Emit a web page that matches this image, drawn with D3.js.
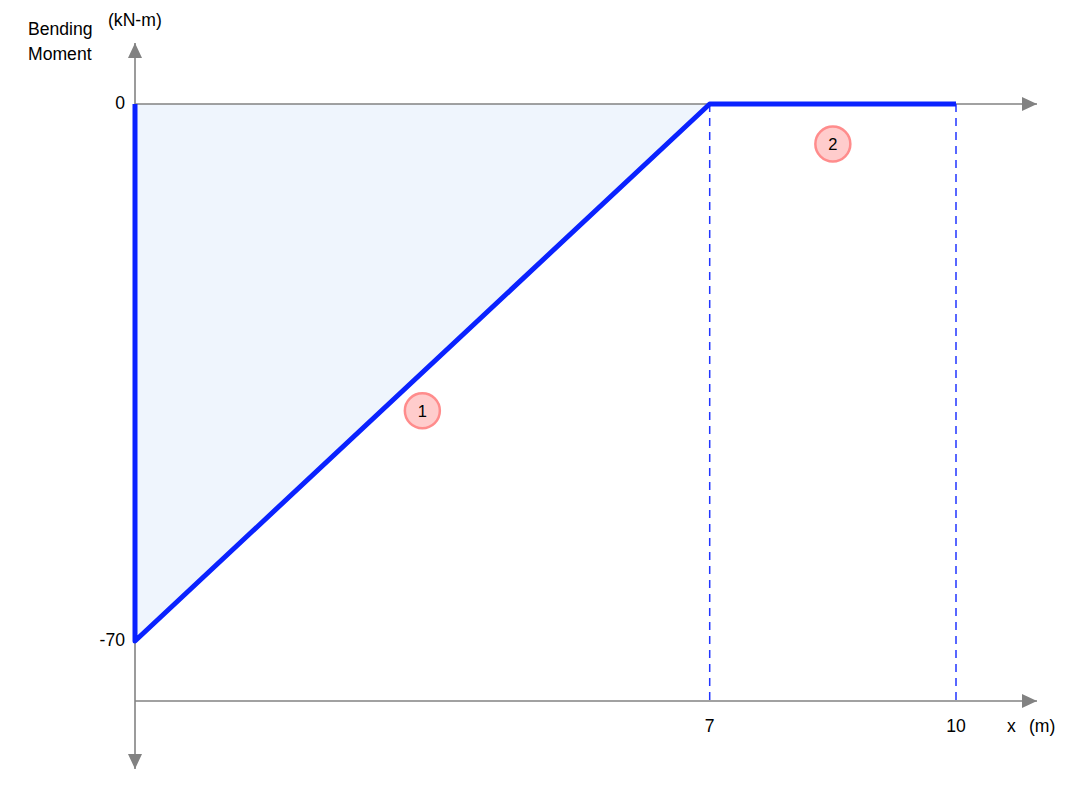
<!DOCTYPE html>
<html>
<head>
<meta charset="utf-8">
<script src="https://cdn.jsdelivr.net/npm/d3@7"></script>
<style>
  body { margin: 0; background: #fff; }
  svg text { font-family: "Liberation Sans", Arial, sans-serif; fill: #000; }
</style>
</head>
<body>
<div class="canvas-bm"></div>
<script>
// bending moment diagram data (x in m, M in kN-m)
const xPoints = [0, 0, 7, 10];
const moments = [0, -70, 0, 0];
const xTicks = [7, 10];
const yTicks = [0, -70];
const segLabels = ['1', '2'];
const segLabelX = [3.5, 8.5];
const segLabelY = [-40, -5.2];

const width = 1082;
const height = 796;

const svg = d3.select('.canvas-bm')
  .append('svg')
  .attr('width', width)
  .attr('height', height);

const x = d3.scaleLinear().domain([0, 10]).range([135, 956]);
const y = d3.scaleLinear().domain([-70, 0]).range([641, 104]);

const axisColor = '#828282';
const blue = '#0a22ff';
const baseY = y(-70) + 60;
const fs = 17.6;

const defs = svg.append('defs');
defs.append('marker')
  .attr('id', 'arrow')
  .attr('viewBox', '0 0 15 14')
  .attr('refX', 15).attr('refY', 7)
  .attr('markerWidth', 15).attr('markerHeight', 14)
  .attr('markerUnits', 'userSpaceOnUse')
  .attr('orient', 'auto')
  .append('path')
  .attr('d', 'M0,0 L15,7 L0,14 Z')
  .attr('fill', axisColor);

const pts = xPoints.map((d, i) => ({ x: d, m: moments[i] }));

// shaded area under the diagram
const area = d3.line().x(d => x(d.x)).y(d => y(d.m));
svg.append('path')
  .datum(pts.slice(0, 3))
  .attr('d', d => area(d) + 'Z')
  .attr('fill', '#eff5fd')
  .attr('stroke', 'none');

// axes
const axisG = svg.append('g').attr('stroke', axisColor).attr('stroke-width', 1.6);
axisG.append('line')
  .attr('x1', x(0)).attr('y1', y(0))
  .attr('x2', 1037).attr('y2', y(0))
  .attr('marker-end', 'url(#arrow)');
axisG.append('line')
  .attr('x1', x(0)).attr('y1', baseY)
  .attr('x2', 1037).attr('y2', baseY)
  .attr('marker-end', 'url(#arrow)');
axisG.append('line')
  .attr('x1', x(0)).attr('y1', y(0))
  .attr('x2', x(0)).attr('y2', 43)
  .attr('marker-end', 'url(#arrow)');
axisG.append('line')
  .attr('x1', x(0)).attr('y1', y(-70))
  .attr('x2', x(0)).attr('y2', 769)
  .attr('marker-end', 'url(#arrow)');

// dashed drop lines at x ticks
svg.selectAll('.drop')
  .data(xTicks)
  .enter()
  .append('line')
  .attr('class', 'drop')
  .attr('x1', d => x(d)).attr('x2', d => x(d))
  .attr('y1', y(0)).attr('y2', baseY + 3)
  .attr('stroke', '#2236ff')
  .attr('stroke-width', 1.5)
  .attr('stroke-dasharray', '8,6');

// moment diagram line
const line = d3.line().x(d => x(d.x)).y(d => y(d.m));
svg.append('path')
  .datum(pts)
  .attr('d', line)
  .attr('fill', 'none')
  .attr('stroke', blue)
  .attr('stroke-width', 5)
  .attr('stroke-linejoin', 'round')
  .attr('stroke-linecap', 'butt');

// tick labels
svg.selectAll('.xtick')
  .data(xTicks)
  .enter()
  .append('text')
  .attr('x', d => x(d))
  .attr('y', baseY + 31)
  .attr('text-anchor', 'middle')
  .attr('font-size', fs)
  .text(d => d);

svg.selectAll('.ytick')
  .data(yTicks)
  .enter()
  .append('text')
  .attr('x', x(0) - 10)
  .attr('y', d => y(d) + 5)
  .attr('text-anchor', 'end')
  .attr('font-size', fs)
  .text(d => d);

// axis titles
svg.append('text').attr('x', 28).attr('y', 35).attr('font-size', fs).text('Bending');
svg.append('text').attr('x', 28).attr('y', 60).attr('font-size', fs).text('Moment');
svg.append('text').attr('x', 108).attr('y', 26).attr('font-size', fs).text('(kN-m)');
svg.append('text').attr('x', 1007).attr('y', baseY + 31).attr('font-size', fs).text('x');
svg.append('text').attr('x', 1029).attr('y', baseY + 31).attr('font-size', fs).text('(m)');

// segment labels
const lab = svg.selectAll('.seg')
  .data(segLabels)
  .enter()
  .append('g')
  .attr('transform', (d, i) => `translate(${x(segLabelX[i])}, ${y(segLabelY[i])})`);
lab.append('circle')
  .attr('r', 17.5)
  .attr('fill', '#ffcccc')
  .attr('stroke', '#ff8c8c')
  .attr('stroke-width', 2.5);
lab.append('text')
  .attr('text-anchor', 'middle')
  .attr('dy', 6)
  .attr('font-size', 16.5)
  .text(d => d);
</script>
</body>
</html>
